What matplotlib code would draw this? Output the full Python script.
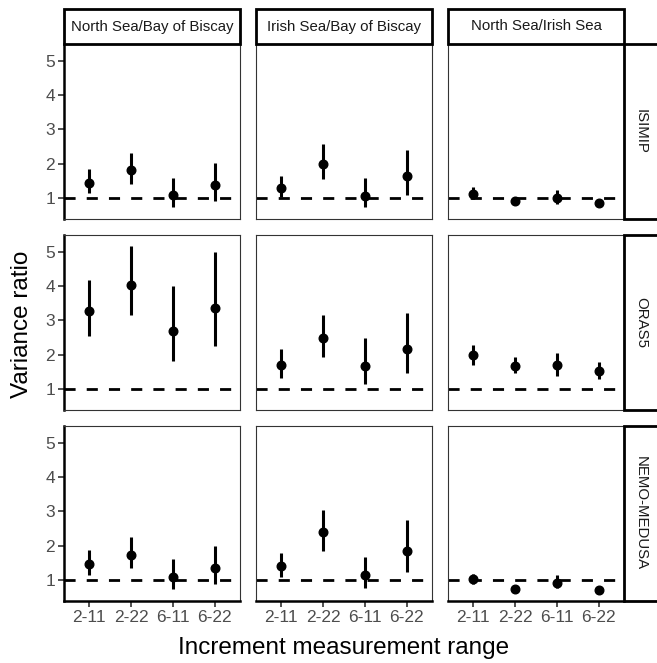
import matplotlib

matplotlib.use("Agg")
import matplotlib.pyplot as plt
from matplotlib.patches import Rectangle

plt.rcParams["font.family"] = ["Liberation Sans", "DejaVu Sans"]

ranges = ["2-11", "2-22", "6-11", "6-22"]
regions = ["North Sea/Bay of Biscay", "Irish Sea/Bay of Biscay", "North Sea/Irish Sea"]
models = ["ISIMIP", "ORAS5", "NEMO-MEDUSA"]

# rows = regions, columns = increment ranges
isimip_ratio = [[1.44, 1.81, 1.09, 1.38], [1.28, 2.00, 1.05, 1.65], [1.12, 0.92, 1.01, 0.87]]
isimip_lower = [[1.14, 1.41, 0.73, 0.92], [1.02, 1.55, 0.73, 1.09], [0.98, 0.87, 0.83, 0.82]]
isimip_upper = [[1.84, 2.32, 1.58, 2.03], [1.65, 2.57, 1.58, 2.40], [1.31, 0.97, 1.23, 0.95]]

oras5_ratio = [[3.27, 4.04, 2.69, 3.36], [1.69, 2.48, 1.67, 2.17], [1.98, 1.67, 1.69, 1.52]]
oras5_lower = [[2.54, 3.15, 1.82, 2.26], [1.33, 1.93, 1.14, 1.47], [1.69, 1.48, 1.37, 1.28]]
oras5_upper = [[4.19, 5.18, 4.00, 4.99], [2.17, 3.16, 2.49, 3.21], [2.29, 1.93, 2.06, 1.79]]

nemo_ratio = [[1.47, 1.74, 1.09, 1.34], [1.41, 2.39, 1.14, 1.86], [1.04, 0.75, 0.92, 0.70]]
nemo_lower = [[1.14, 1.36, 0.73, 0.89], [1.10, 1.84, 0.76, 1.24], [0.90, 0.71, 0.78, 0.66]]
nemo_upper = [[1.87, 2.25, 1.62, 1.99], [1.79, 3.05, 1.68, 2.76], [1.17, 0.80, 1.14, 0.75]]

model_data = {
    "ISIMIP": (isimip_ratio, isimip_lower, isimip_upper),
    "ORAS5": (oras5_ratio, oras5_lower, oras5_upper),
    "NEMO-MEDUSA": (nemo_ratio, nemo_lower, nemo_upper),
}

W, H = 657, 663
fig = plt.figure(figsize=(W / 100, H / 100), dpi=100)

col_x = [64, 256, 448]
row_top = [44, 235, 426]
pw, ph = 176, 175
strip = 34


def frac(x, y, w, h):
    # pixel box (top-left origin) -> figure fraction
    return [x / W, 1 - (y + h) / H, w / W, h / H]


def add_strip(x, y, w, h, label, rotation=0):
    r = Rectangle(
        (x / W, 1 - (y + h) / H), w / W, h / H,
        transform=fig.transFigure, facecolor="white", edgecolor="black",
        linewidth=2.0, clip_on=False,
    )
    fig.patches.append(r)
    fig.text((x + w / 2) / W, 1 - (y + h / 2) / H, label, ha="center", va="center",
             rotation=rotation, fontsize=10.8, color="#1A1A1A")


for i, model in enumerate(models):
    ratio, lower, upper = model_data[model]
    for j, region in enumerate(regions):
        ax = fig.add_axes(frac(col_x[j], row_top[i], pw, ph))
        xs = list(range(1, len(ranges) + 1))
        ax.axhline(1, color="black", linewidth=2.0, linestyle=(0, (4, 4)), zorder=1)
        err = [[r - lo for r, lo in zip(ratio[j], lower[j])],
               [hi - r for r, hi in zip(ratio[j], upper[j])]]
        ax.errorbar(xs, ratio[j], yerr=err, fmt="o", color="black", ms=6.2,
                    elinewidth=2.2, capsize=0, zorder=3)
        ax.set_xlim(0.4, 4.6)
        ax.set_ylim(0.39, 5.49)
        ax.set_yticks([1, 2, 3, 4, 5])
        ax.set_xticks(xs)
        ax.set_xticklabels(ranges)
        for s in ax.spines.values():
            s.set_color("#333333")
            s.set_linewidth(0.8)
        ax.tick_params(colors="#333333", labelcolor="#4D4D4D", labelsize=12.5,
                       length=4, width=1.2, pad=2.5)
        if j == 0:
            ax.spines["left"].set_color("black")
            ax.spines["left"].set_linewidth(1.8)
        else:
            ax.tick_params(axis="y", left=False, labelleft=False)
        if i == len(models) - 1:
            ax.spines["bottom"].set_color("black")
            ax.spines["bottom"].set_linewidth(1.8)
        else:
            ax.tick_params(axis="x", bottom=False, labelbottom=False)
        if i == 0:
            add_strip(col_x[j], row_top[0] - strip - 1, pw, strip + 1, region)
    add_strip(col_x[2] + pw, row_top[i], strip, ph, model, rotation=-90)

fig.text(22 / W, 1 - 324 / H, "Variance ratio", rotation=90, ha="center", va="center",
         fontsize=17.5)
fig.text(344 / W, 1 - 648 / H, "Increment measurement range", ha="center", va="center",
         fontsize=17.5)

fig.savefig("out.png", dpi=100)
plt.close(fig)
